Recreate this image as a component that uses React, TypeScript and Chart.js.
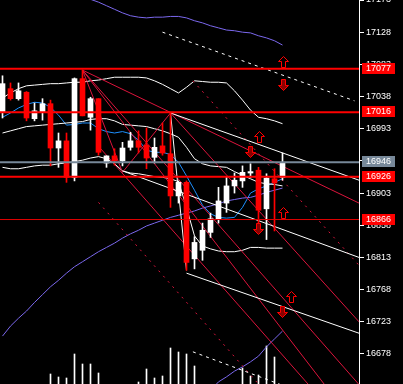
import React, { useEffect, useRef } from "react";
import { Chart, registerables } from "chart.js";

Chart.register(...registerables);

// ---- price data (36 candles) ----
const candleOpen = [17016, 17049, 17035, 17044, 17007, 17016, 17028, 16966, 16976, 16925, 17063, 17009, 17035, 16945, 16955, 16948, 16967, 16976, 16970, 16953, 16969, 16958, 16899, 16918, 16811, 16823, 16848, 16867, 16889, 16913, 16920, 16931, 16935, 16881, 16923, 16925];
const candleHigh = [17067, 17057, 17057, 17045, 17029, 17035, 17033, 16987, 16987, 17064, 17075, 17037, 17035, 16955, 16965, 16974, 16988, 16990, 16994, 16980, 17001, 17015, 16920, 16920, 16842, 16861, 16875, 16911, 16925, 16931, 16941, 16944, 16939, 16930, 16937, 16959];
const candleLow = [17008, 17033, 17033, 17004, 17004, 17005, 16941, 16939, 16918, 16920, 17011, 16991, 16956, 16939, 16942, 16941, 16963, 16959, 16937, 16945, 16956, 16883, 16889, 16795, 16797, 16809, 16841, 16861, 16876, 16903, 16911, 16925, 16851, 16838, 16850, 16921];
const candleClose = [17056, 17035, 17046, 17008, 17018, 17028, 16966, 16976, 16925, 17063, 17011, 17035, 16960, 16955, 16948, 16966, 16976, 16967, 16952, 16967, 16959, 16899, 16918, 16806, 16834, 16851, 16867, 16892, 16913, 16921, 16932, 16933, 16879, 16924, 16917, 16946];
const volume = [0, 0, 0, 0, 0, 0, 1000, 700, 600, 3000, 2000, 2000, 1100, 0, 0, 0, 0, 200, 1500, 600, 800, 3600, 3200, 3000, 1800, 0, 0, 0, 0, 0, 1600, 800, 900, 3800, 2700, 0];

// ---- indicators (one value per candle) ----
const upperBand = [17036, 17043, 17049, 17053, 17054, 17055, 17056, 17056, 17057, 17058, 17058, 17060, 17061, 17063, 17065, 17065, 17065, 17065, 17064, 17060, 17055, 17049, 17043, 17051, 17060, 17059, 17058, 17058, 17057, 17046, 17033, 17019, 17009, 17007, 17004, 17000];
const middleBand = [16987, 16990, 16993, 16996, 16997, 16998, 16999, 17000, 17001, 17002, 17003, 17006, 17007, 17007, 17004, 16999, 16998, 16997, 16996, 16993, 16990, 16986, 16981, 16967, 16951, 16944, 16941, 16940, 16939, 16933, 16928, 16923, 16918, 16916, 16915, 16913];
const lowerBand = [16939, 16937, 16937, 16939, 16941, 16942, 16942, 16944, 16945, 16947, 16949, 16952, 16954, 16951, 16944, 16934, 16931, 16930, 16928, 16926, 16925, 16923, 16919, 16883, 16843, 16829, 16825, 16822, 16821, 16821, 16823, 16827, 16827, 16826, 16826, 16826];
const fastMA = [17009, 17015, 17022, 17027, 17030, 17029, 17023, 17012, 16998, 16999, 17001, 17001, 16993, 16989, 16987, 16989, 16986, 16977, 16963, 16960, 16960, 16957, 16946, 16927, 16907, 16886, 16874, 16869, 16868, 16869, 16883, 16903, 16909, 16913, 16918, 16923];
const slowMA = [16703, 16717, 16728, 16738, 16750, 16761, 16772, 16781, 16791, 16800, 16807, 16814, 16821, 16827, 16833, 16840, 16846, 16851, 16857, 16861, 16865, 16869, 16872, 16875, 16878, 16882, 16885, 16888, 16892, 16894, 16896, 16897, 16900, 16904, 16907, 16910];
const envTopStart = 10;
const envTop = [17180, 17174, 17170, 17165, 17160, 17155, 17151, 17149, 17148, 17149, 17149, 17150, 17150, 17148, 17144, 17141, 17137, 17134, 17131, 17130, 17128, 17127, 17123, 17120, 17116, 17110];
const envBottomStart = 26;
const envBottom = [16627, 16639, 16646, 16654, 16660, 16667, 16675, 16688, 16699, 16710];

// ---- axis ----
const priceTicks = [17173, 17128, 17083, 17038, 16993, 16948, 16903, 16858, 16813, 16768, 16723, 16678];
const Y_MIN = 16636;
const Y_MAX = 17173;
const X_MIN = -0.3125;
const X_MAX = 44.5625;

// ---- levels ----
const redLevels = [17077, 17016, 16926];
const thinRedLevels = [16866];
const currentPrice = 16946;

// ---- drawn objects: [index0, price0, index1, price1] ----
const whiteTrendLines = [
  [21, 17015, 44.5625, 16921],
  [15, 16934, 44.5625, 16813],
  [21, 17015, 23, 16795],
  [23, 16791, 44.5625, 16707],
];
const whiteDashedLines = [
  [20, 17128, 44, 17032],
  [23.8, 16681, 36, 16630],
];
const redTrendLines = [
  [10, 17075, 44.5625, 16889],
  [10, 17075, 44.5, 16636],
  [10, 17075, 40.2, 16636],
  [12.2, 16966, 38.5, 16632],
  [21, 17015, 44.5625, 16723],
  [10, 17075, 15, 16932],
  [15, 16932, 21, 17015],
];
const redDashedLines = [
  [12, 16890, 32, 16636],
  [23.8, 17060, 44.5625, 16802],
];
const upArrows = [[35, 17086], [32, 16981], [35, 16875], [36, 16757]];
const downArrows = [[35, 17054], [30.9, 16960], [31.9, 16853], [34.9, 16737]];

const RED = "#ff0000";
const CRIMSON = "#dc143c";
const GRAY = "#778899";
const FONT = "Liberation Sans";

function drawArrow(ctx: CanvasRenderingContext2D, x: number, y: number, up: boolean) {
  const cx = Math.round(x) + 0.5;
  const top = Math.round(y) - 6 + 0.5;
  ctx.beginPath();
  if (up) {
    ctx.moveTo(cx, top);
    ctx.lineTo(cx + 5, top + 5);
    ctx.lineTo(cx + 2, top + 5);
    ctx.lineTo(cx + 2, top + 11);
    ctx.lineTo(cx - 2, top + 11);
    ctx.lineTo(cx - 2, top + 5);
    ctx.lineTo(cx - 5, top + 5);
  } else {
    ctx.moveTo(cx, top + 11);
    ctx.lineTo(cx + 5, top + 6);
    ctx.lineTo(cx + 2, top + 6);
    ctx.lineTo(cx + 2, top);
    ctx.lineTo(cx - 2, top);
    ctx.lineTo(cx - 2, top + 6);
    ctx.lineTo(cx - 5, top + 6);
  }
  ctx.closePath();
  ctx.fillStyle = up ? "#000000" : "#8b0000";
  ctx.fill();
  ctx.strokeStyle = RED;
  ctx.lineWidth = 1;
  ctx.stroke();
}

const overlayPlugin = {
  id: "overlay",
  afterDatasetsDraw(chart: any) {
    const ctx = chart.ctx as CanvasRenderingContext2D;
    const xs = chart.scales.x;
    const ys = chart.scales.y;
    ctx.save();
    upArrows.forEach(([i, p]) => drawArrow(ctx, xs.getPixelForValue(i), ys.getPixelForValue(p), true));
    downArrows.forEach(([i, p]) => drawArrow(ctx, xs.getPixelForValue(i), ys.getPixelForValue(p), false));
    ctx.restore();
  },
  afterDraw(chart: any) {
    const ctx = chart.ctx as CanvasRenderingContext2D;
    const ys = chart.scales.y;
    const left = chart.chartArea.right + 3;
    ctx.save();
    ctx.font = `9px "${FONT}"`;
    ctx.textBaseline = "middle";
    ctx.textAlign = "left";
    const box = (p: number, color: string) => {
      const y = Math.round(ys.getPixelForValue(p));
      ctx.fillStyle = color;
      ctx.fillRect(left, y - 6, 33, 11);
      ctx.fillStyle = "#ffffff";
      ctx.fillText(String(p), left + 4, y);
    };
    [...redLevels, ...thinRedLevels].forEach((p) => box(p, RED));
    box(currentPrice, GRAY);
    ctx.restore();
  },
};

function seg(s: number[]) {
  return [{ x: s[0], y: s[1] }, { x: s[2], y: s[3] }];
}

function lineDs(data: any[], color: string, width: number, order: number, dash: number[] = []) {
  return {
    type: "line" as const,
    data,
    borderColor: color,
    borderWidth: width,
    borderDash: dash,
    pointRadius: 0,
    fill: false,
    tension: 0,
    order,
    yAxisID: "y",
  };
}

export default function App() {
  const ref = useRef<HTMLCanvasElement | null>(null);

  useEffect(() => {
    document.body.style.margin = "0";
    document.body.style.background = "#000";
    const canvas = ref.current;
    if (!canvas) return;

    const idx = candleOpen.map((_, i) => i);
    const bull = idx.filter((i) => candleClose[i] >= candleOpen[i]);
    const bear = idx.filter((i) => candleClose[i] < candleOpen[i]);
    const body = (i: number) => ({ x: i, y: [Math.min(candleOpen[i], candleClose[i]), Math.max(candleOpen[i], candleClose[i])] });
    const wick = (i: number) => ({ x: i, y: [candleLow[i], candleHigh[i]] });

    const datasets: any[] = [
      {
        type: "bar",
        data: idx.filter((i) => volume[i] > 0).map((i) => ({ x: i, y: volume[i] })),
        backgroundColor: "#ffffff",
        barThickness: 1,
        grouped: false,
        yAxisID: "yv",
        order: 9,
      },
      lineDs(upperBand.map((v, i) => ({ x: i, y: v })), "#ffffff", 1, 5),
      lineDs(middleBand.map((v, i) => ({ x: i, y: v })), "#ffffff", 1, 5),
      lineDs(lowerBand.map((v, i) => ({ x: i, y: v })), "#ffffff", 1, 5),
      lineDs(envTop.map((v, k) => ({ x: k + envTopStart, y: v })), "#7b68ee", 1, 5),
      lineDs(envBottom.map((v, k) => ({ x: k + envBottomStart, y: v })), "#7b68ee", 1, 5),
      lineDs(slowMA.map((v, i) => ({ x: i, y: v })), "#7b68ee", 1, 5),
      lineDs(fastMA.map((v, i) => ({ x: i, y: v })), "#1e90ff", 1, 5),
      ...whiteTrendLines.map((s) => lineDs(seg(s), "#ffffff", 1, 4)),
      ...whiteDashedLines.map((s) => lineDs(seg(s), "#ffffff", 1, 4, [3, 4])),
      ...redTrendLines.map((s) => lineDs(seg(s), CRIMSON, 1, 4)),
      ...redDashedLines.map((s) => lineDs(seg(s), CRIMSON, 1, 4, [2, 5])),
      {
        type: "bar",
        data: bull.map(wick),
        backgroundColor: "#ffffff",
        barThickness: 1,
        grouped: false,
        yAxisID: "y",
        order: 2,
      },
      {
        type: "bar",
        data: bear.map(wick),
        backgroundColor: RED,
        barThickness: 1,
        grouped: false,
        yAxisID: "y",
        order: 2,
      },
      {
        type: "bar",
        data: bull.map(body),
        backgroundColor: "#ffffff",
        barThickness: 5,
        grouped: false,
        yAxisID: "y",
        order: 1,
      },
      {
        type: "bar",
        data: bear.map(body),
        backgroundColor: RED,
        barThickness: 5,
        grouped: false,
        yAxisID: "y",
        order: 1,
      },
      ...redLevels.map((p) => lineDs([{ x: X_MIN, y: p }, { x: X_MAX, y: p }], RED, 2, 0)),
      ...thinRedLevels.map((p) => lineDs([{ x: X_MIN, y: p }, { x: X_MAX, y: p }], "#e00000", 1, 0)),
      lineDs([{ x: X_MIN, y: currentPrice }, { x: X_MAX, y: currentPrice }], GRAY, 2, 0),
    ];

    const chart = new Chart(canvas, {
      type: "bar",
      data: { datasets },
      options: {
        animation: false,
        responsive: false,
        devicePixelRatio: 1,
        layout: { padding: 0 },
        plugins: { legend: { display: false }, tooltip: { enabled: false } },
        scales: {
          x: { type: "linear", min: X_MIN, max: X_MAX, display: false, offset: false },
          yv: { type: "linear", min: 0, max: 38400, display: false },
          y: {
            type: "linear",
            position: "right",
            min: Y_MIN,
            max: Y_MAX,
            afterBuildTicks: (scale: any) => {
              scale.ticks = priceTicks.map((v) => ({ value: v }));
            },
            afterFit: (scale: any) => {
              scale.width = 44;
              scale.paddingTop = 0;
              scale.paddingBottom = 0;
            },
            grid: { drawOnChartArea: false, drawTicks: true, tickLength: 5, color: "#ffffff" },
            border: { color: "#ffffff", width: 1 },
            ticks: {
              color: "#ffffff",
              padding: 2,
              autoSkip: false,
              font: { family: FONT, size: 9 },
              callback: (v: any) => String(v),
            },
          },
        },
      },
      plugins: [overlayPlugin],
    } as any);

    return () => chart.destroy();
  }, []);

  return (
    <div style={{ position: "absolute", left: 0, top: 0, width: 403, height: 384, background: "#000" }}>
      <canvas ref={ref} width={403} height={384} style={{ display: "block" }} />
    </div>
  );
}
